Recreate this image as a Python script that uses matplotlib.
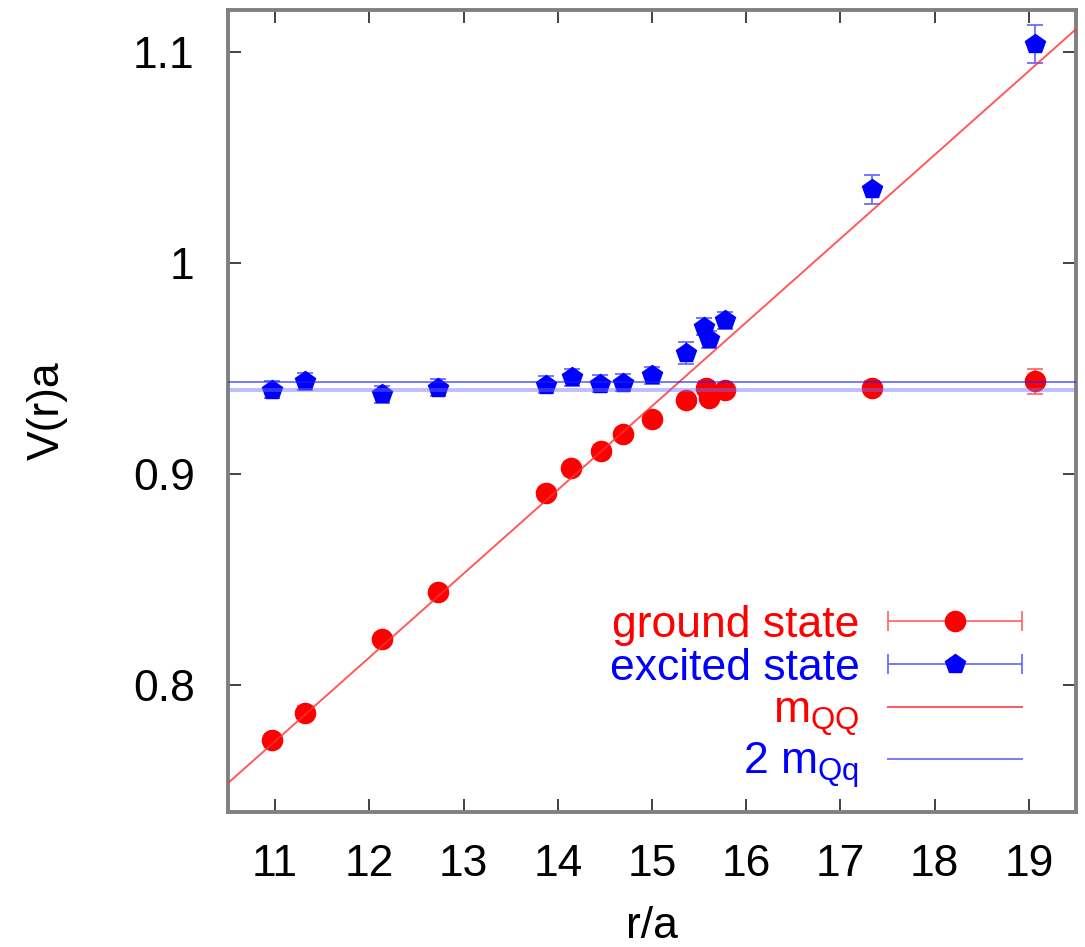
import numpy as np
import matplotlib
matplotlib.use("Agg")
import matplotlib.pyplot as plt
from matplotlib.legend_handler import HandlerErrorbar
from matplotlib.lines import Line2D

plt.rcParams['font.family'] = ['Liberation Sans', 'DejaVu Sans']
plt.rcParams['mathtext.default'] = 'regular'

# ground state V(r)a
r_ground = [10.97, 11.32, 12.13, 12.73, 13.87, 14.14, 14.46, 14.69, 15.00,
            15.36, 15.57, 15.60, 15.78, 17.33, 19.07]
v_ground = [0.774, 0.787, 0.822, 0.844, 0.891, 0.903, 0.911, 0.919, 0.926,
            0.935, 0.941, 0.936, 0.940, 0.941, 0.944]
e_ground = [0.003, 0.003, 0.003, 0.003, 0.003, 0.003, 0.003, 0.003, 0.003,
            0.003, 0.003, 0.003, 0.003, 0.003, 0.006]

# excited state V(r)a
r_exc = [10.97, 11.32, 12.13, 12.73, 13.87, 14.15, 14.45, 14.69, 15.00,
         15.36, 15.55, 15.60, 15.78, 17.33, 19.07]
v_exc = [0.940, 0.944, 0.938, 0.941, 0.9425, 0.946, 0.943, 0.9435, 0.947,
         0.9575, 0.970, 0.964, 0.973, 1.035, 1.104]
e_exc = [0.004, 0.004, 0.004, 0.004, 0.004, 0.004, 0.004, 0.004, 0.004,
         0.005, 0.004, 0.004, 0.004, 0.007, 0.009]

# string fit V = c + sigma*r  and 2 m_Qq band
c_fit, sigma_fit = 0.3368, 0.0397
two_mQq_hi, two_mQq_lo = 0.9438, 0.9401

xmin, xmax = 10.5, 19.5
ymin, ymax = 0.74, 1.12

fig = plt.figure(figsize=(10.85, 9.47), dpi=100)
ax = fig.add_axes([0.2101, 0.1426, 0.7816, 0.8468])

rr = np.array([xmin, xmax])
ax.plot(rr, c_fit + sigma_fit * rr, color='#ff3030', alpha=0.8, lw=1.4, zorder=4)
ax.axhline(two_mQq_hi, color='#2020ff', alpha=0.6, lw=1.4, zorder=4)
ax.axhline(two_mQq_lo, color='#7070ff', alpha=0.45, lw=2.8, zorder=4)

ax.errorbar(r_ground, v_ground, yerr=e_ground, fmt='o', color='red',
            ms=14.5, ecolor='#ff6060', elinewidth=1.2, capsize=6,
            capthick=1.2, zorder=3)
ax.errorbar(r_exc, v_exc, yerr=e_exc, fmt='p', color='blue',
            ms=15, ecolor='#6060ff', elinewidth=1.2, capsize=6,
            capthick=1.2, zorder=3)

# legend entries (gnuplot style: horizontal error bars on the sample)
leg_g = ax.errorbar([np.nan], [np.nan], xerr=[0], fmt='o', color='red', ms=14.5,
                    ecolor='#ff6060', elinewidth=1.2, capsize=7.5, capthick=1.2)
leg_e = ax.errorbar([np.nan], [np.nan], xerr=[0], fmt='p', color='blue', ms=15,
                    ecolor='#6060ff', elinewidth=1.2, capsize=7.5, capthick=1.2)
l_mQQ = Line2D([], [], color='#ff3030', alpha=0.8, lw=1.4)
l_mQq = Line2D([], [], color='#2020ff', alpha=0.6, lw=1.4)

leg = ax.legend([leg_g, leg_e, l_mQQ, l_mQq],
                ['ground state', 'excited state', r'm$_{QQ}$', r'2 m$_{Qq}$'],
                handler_map={type(leg_g): HandlerErrorbar(xerr_size=1.5)},
                markerfirst=False, frameon=False, fontsize=32,
                labelcolor=['red', 'blue', 'red', 'blue'],
                handlelength=3.0, handletextpad=0.65, labelspacing=0.05,
                borderpad=0, borderaxespad=0,
                loc='lower right', bbox_to_anchor=(0.936, 0.027))

ax.set_xlim(xmin, xmax)
ax.set_ylim(ymin, ymax)
ax.set_xticks(range(11, 20))
ax.set_yticks([0.8, 0.9, 1.0, 1.1])
ax.set_yticklabels(['0.8', '0.9', '1', '1.1'])

ax.tick_params(direction='in', length=9.5, width=1.3, color='#333333',
               labelsize=32, top=True, right=True)
ax.tick_params(axis='x', pad=23)
ax.tick_params(axis='y', pad=24)
for s in ax.spines.values():
    s.set_color('#808080')
    s.set_linewidth(2.8)

ax.set_xlabel('r/a', fontsize=32, labelpad=15)
ax.set_ylabel('V(r)a', fontsize=32, labelpad=47)

fig.savefig('out.png', dpi=100)
